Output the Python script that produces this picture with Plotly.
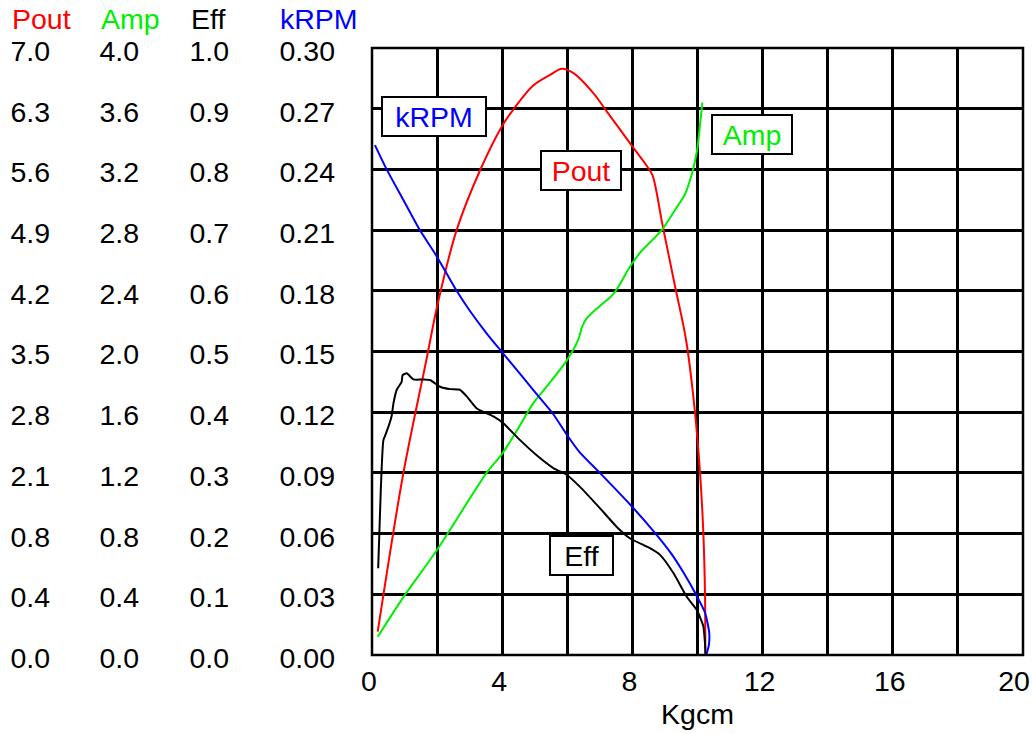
import plotly.graph_objects as go

# ---- data (torque in Kgcm) ----
pout_x = [0.175, 0.96, 1.68, 2.0, 2.6, 3.32, 3.98, 4.34, 4.96, 5.47, 5.83, 6.19, 6.80, 7.21,
          7.93, 8.46, 8.62, 8.92, 9.30, 9.65, 9.92, 10.08, 10.18, 10.23, 10.24]
pout_y = [0.27, 2.09, 3.42, 4.02, 4.90, 5.59, 6.09, 6.29, 6.57, 6.69, 6.76, 6.71, 6.48, 6.27,
          5.90, 5.63, 5.53, 4.97, 4.27, 3.63, 2.81, 2.09, 1.40, 0.71, 0.0]

amp_x = [0.175, 0.96, 1.99, 3.52, 3.98, 4.34, 4.96, 5.37, 5.98, 6.34, 6.45, 6.60, 7.0, 7.42,
         7.93, 8.23, 8.90, 9.36, 9.60, 9.84, 9.99, 10.08, 10.15]
amp_y = [0.12, 0.38, 0.69, 1.20, 1.32, 1.44, 1.66, 1.77, 1.94, 2.08, 2.16, 2.22, 2.30, 2.38,
         2.56, 2.65, 2.80, 2.95, 3.03, 3.18, 3.33, 3.50, 3.64]

eff_x = [0.19, 0.27, 0.35, 0.43, 0.60, 0.66, 0.76, 0.91, 0.94, 1.07, 1.27, 1.58, 1.78, 2.09,
         2.40, 2.70, 2.91, 3.22, 3.73, 4.03, 4.55, 5.06, 5.57, 5.98, 6.39, 7.0, 7.52, 7.93,
         8.54, 8.85, 9.26, 9.67, 9.98, 10.18, 10.23, 10.25]
eff_y = [0.143, 0.272, 0.354, 0.365, 0.393, 0.415, 0.437, 0.450, 0.461, 0.464, 0.454, 0.454,
         0.453, 0.442, 0.438, 0.437, 0.426, 0.406, 0.393, 0.382, 0.354, 0.329, 0.308, 0.297,
         0.277, 0.242, 0.211, 0.192, 0.176, 0.165, 0.135, 0.096, 0.074, 0.047, 0.019, 0.0]

krpm_x = [0.09, 0.45, 0.96, 1.47, 1.99, 2.60, 3.01, 3.52, 4.03, 4.65, 5.16, 5.57, 5.98, 6.39,
          7.0, 7.95, 8.66, 9.20, 9.56, 9.95, 10.23, 10.36, 10.35, 10.27]
krpm_y = [0.252, 0.240, 0.225, 0.210, 0.197, 0.180, 0.170, 0.159, 0.149, 0.137, 0.127, 0.119,
          0.109, 0.100, 0.090, 0.074, 0.061, 0.050, 0.041, 0.030, 0.021, 0.011, 0.005, 0.0]

# ---- tick labels ----
x_tickvals = [0, 2, 4, 6, 8, 10, 12, 14, 16, 18]
x_ticktext = ["0", "", "4", "", "8", "", "12", "", "16", ""]
x_end_tickvals = [20]
x_end_ticktext = ["20"]
pout_tickvals = [0, 0.7, 1.4, 2.1, 2.8, 3.5, 4.2, 4.9, 5.6, 6.3, 7.0]
pout_ticktext = ["0.0", "0.4", "0.8", "2.1", "2.8", "3.5", "4.2", "4.9", "5.6", "6.3", "7.0"]
amp_tickvals = [0, 0.4, 0.8, 1.2, 1.6, 2.0, 2.4, 2.8, 3.2, 3.6, 4.0]
amp_ticktext = ["0.0", "0.4", "0.8", "1.2", "1.6", "2.0", "2.4", "2.8", "3.2", "3.6", "4.0"]
eff_tickvals = [0, 0.1, 0.2, 0.3, 0.4, 0.5, 0.6, 0.7, 0.8, 0.9, 1.0]
eff_ticktext = ["0.0", "0.1", "0.2", "0.3", "0.4", "0.5", "0.6", "0.7", "0.8", "0.9", "1.0"]
krpm_tickvals = [0, 0.03, 0.06, 0.09, 0.12, 0.15, 0.18, 0.21, 0.24, 0.27, 0.30]
krpm_ticktext = ["0.00", "0.03", "0.06", "0.09", "0.12", "0.15", "0.18", "0.21", "0.24", "0.27", "0.30"]

RED, GREEN, BLACK, BLUE = "#ff0000", "#00ee00", "#000000", "#0000ff"
FONT = "Liberation Sans, Arial, sans-serif"
FS = 28.5
W_PAPER = 1023.0

fig = go.Figure()
fig.add_trace(go.Scatter(x=pout_x, y=pout_y, xaxis="x", yaxis="y", mode="lines",
                         line=dict(color=RED, width=2, shape="spline", smoothing=0.9)))
fig.add_trace(go.Scatter(x=amp_x, y=amp_y, xaxis="x", yaxis="y2", mode="lines",
                         line=dict(color=GREEN, width=2, shape="spline", smoothing=0.8)))
fig.add_trace(go.Scatter(x=eff_x, y=eff_y, xaxis="x", yaxis="y3", mode="lines",
                         line=dict(color=BLACK, width=2, shape="spline", smoothing=0.5)))
# kRPM drawn on the twin x axis (same range/domain) which carries the "20" label
fig.add_trace(go.Scatter(x=krpm_x, y=krpm_y, xaxis="x2", yaxis="y4", mode="lines",
                         line=dict(color=BLUE, width=2, shape="spline", smoothing=0.6)))

dom0 = 372 / W_PAPER

def yax(rng, tv, tt, pos, grid=False, overlay=None):
    d = dict(range=rng, tickvals=tv, ticktext=tt, anchor="free", position=pos, side="left",
             showgrid=grid, gridcolor="black", gridwidth=2.5, zeroline=False, showline=False,
             ticks="", automargin=False, ticklabelshift=3,
             tickfont=dict(family=FONT, size=FS, color="black"), fixedrange=True)
    if overlay:
        d["overlaying"] = overlay
    return d

fig.update_layout(
    width=1032, height=733,
    margin=dict(l=0, r=9, t=48, b=78, autoexpand=False),
    paper_bgcolor="white", plot_bgcolor="white",
    showlegend=False,
    font=dict(family=FONT, size=FS, color="black"),
    xaxis=dict(domain=[dom0, 1], range=[0, 20], tickvals=x_tickvals, ticktext=x_ticktext,
               showgrid=True, gridcolor="black", gridwidth=2.5, zeroline=False, showline=False,
               ticks="", automargin=False, ticklabelshift=-3, ticklabelstandoff=6,
               tickfont=dict(family=FONT, size=FS), anchor="y", fixedrange=True,
               title=dict(text="Kgcm", font=dict(family=FONT, size=FS), standoff=8)),
    xaxis2=dict(domain=[dom0, 1], range=[0, 20], tickvals=x_end_tickvals, ticktext=x_end_ticktext,
                overlaying="x", side="bottom", anchor="y",
                showgrid=False, zeroline=False, showline=False,
                ticks="", automargin=False, ticklabelshift=-9, ticklabelstandoff=6,
                ticklabeloverflow="allow",
                tickfont=dict(family=FONT, size=FS), fixedrange=True),
    yaxis=yax([0, 7], pout_tickvals, pout_ticktext, 50 / W_PAPER, grid=True),
    yaxis2=yax([0, 4], amp_tickvals, amp_ticktext, 139 / W_PAPER, overlay="y"),
    yaxis3=yax([0, 1], eff_tickvals, eff_ticktext, 229 / W_PAPER, overlay="y"),
    yaxis4=yax([0, 0.3], krpm_tickvals, krpm_ticktext, 335 / W_PAPER, overlay="y"),
)

# plot border (also the gridline at x = 20)
fig.add_shape(type="rect", xref="paper", yref="paper", x0=dom0, x1=1, y0=0, y1=1,
              line=dict(color="black", width=2.5), layer="above")

# axis headers
for txt, col, px in [("Pout", RED, 10), ("Amp", GREEN, 99), ("Eff", BLACK, 189), ("kRPM", BLUE, 278)]:
    fig.add_annotation(text=txt, xref="paper", yref="paper", x=px / W_PAPER, y=(655 - 19) / 607.0,
                       xanchor="left", yanchor="middle", showarrow=False,
                       font=dict(family=FONT, size=FS, color=col))

# series labels in boxes
for txt, col, xv, yv, yr, w in [("kRPM", BLUE, 1.90, 0.266, "y4", 100),
                                ("Pout", RED, 6.42, 5.59, "y", 76),
                                ("Amp", GREEN, 11.67, 3.43, "y2", 76),
                                ("Eff", BLACK, 6.44, 0.164, "y3", 59)]:
    fig.add_annotation(text=txt, x=xv, y=yv, xref="x", yref=yr, showarrow=False,
                       xanchor="center", yanchor="middle", width=w, height=35,
                       bgcolor="white", bordercolor="black", borderwidth=2, borderpad=1,
                       font=dict(family=FONT, size=FS, color=col))

fig.write_html("out.html", config={"displayModeBar": False},
               post_script="document.body.style.margin='0';document.body.style.overflow='hidden';")
